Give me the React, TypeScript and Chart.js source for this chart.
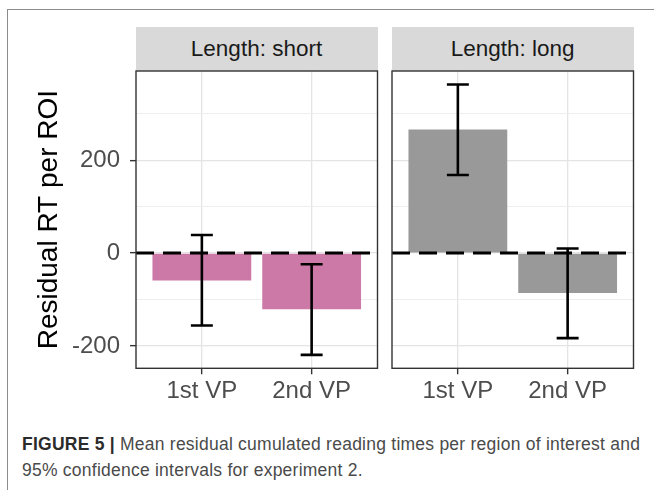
import React, { useEffect, useRef } from "react";
import { Chart, registerables } from "chart.js";

Chart.register(...registerables);

// ---- data ----
const categories = ["1st VP", "2nd VP"];
const panelTitles = ["Length: short", "Length: long"];
const shortMeans = [-59, -121];
const shortLower = [-156, -219];
const shortUpper = [39, -24];
const longMeans = [266, -86];
const longLower = [168, -183];
const longUpper = [363, 10];
const yTicks = [-200, -100, 0, 100, 200, 300];
const yLabelTicks = [-200, 0, 200];
const yAxisTitle = "Residual RT per ROI";
const captionBold = "FIGURE 5 |";
const captionText =
  " Mean residual cumulated reading times per region of interest and 95% confidence intervals for experiment 2.";

const Y_MIN = -248;
const Y_MAX = 392;
const FONT = "'Liberation Sans', Arial, Helvetica, sans-serif";

Chart.defaults.font.family = FONT;

const panelPlugin = {
  id: "panel",
  afterDatasetsDraw(chart: any, _args: any, opts: any) {
    const { ctx, chartArea, scales } = chart;
    const xs = scales.x;
    const ys = scales.y;
    const lower: number[] = opts.lower || [];
    const upper: number[] = opts.upper || [];
    ctx.save();
    ctx.strokeStyle = "#000";
    ctx.lineWidth = 2.6;
    ctx.lineCap = "butt";
    const half = xs.getPixelForValue(1.1) - xs.getPixelForValue(1);
    lower.forEach((lo, i) => {
      const x = xs.getPixelForValue(i + 1);
      const yl = ys.getPixelForValue(lo);
      const yu = ys.getPixelForValue(upper[i]);
      ctx.beginPath();
      ctx.moveTo(x, yu);
      ctx.lineTo(x, yl);
      ctx.moveTo(x - half, yu);
      ctx.lineTo(x + half, yu);
      ctx.moveTo(x - half, yl);
      ctx.lineTo(x + half, yl);
      ctx.stroke();
    });
    ctx.strokeStyle = "#333";
    ctx.lineWidth = 1.4;
    ctx.strokeRect(chartArea.left, chartArea.top, chartArea.right - chartArea.left, chartArea.bottom - chartArea.top);
    ctx.restore();
  },
};

function makeConfig(
  means: number[],
  lower: number[],
  upper: number[],
  color: string,
  showY: boolean,
  padding: any
): any {
  return {
    type: "bar",
    data: {
      datasets: [
        {
          type: "line",
          data: [
            { x: 0.4, y: 0 },
            { x: 2.6, y: 0 },
          ],
          borderColor: "#000",
          borderWidth: 3,
          borderDash: [18, 9],
          pointRadius: 0,
          order: 0,
        },
        {
          type: "bar",
          data: means.map((v, i) => ({ x: i + 1, y: v })),
          backgroundColor: color,
          borderWidth: 0,
          barPercentage: 0.9,
          categoryPercentage: 1,
          order: 1,
        },
      ],
    },
    options: {
      animation: false,
      responsive: false,
      maintainAspectRatio: false,
      layout: { padding },
      plugins: {
        legend: { display: false },
        tooltip: { enabled: false },
        panel: { lower, upper },
      },
      scales: {
        x: {
          type: "linear",
          min: 0.4,
          max: 2.6,
          offset: false,
          afterBuildTicks: (s: any) => {
            s.ticks = categories.map((_, i) => ({ value: i + 1 }));
          },
          afterFit: (s: any) => {
            s.height = 41.7;
            s.paddingLeft = 0;
            s.paddingRight = 0;
          },
          ticks: {
            callback: (v: any) => categories[Math.round(v) - 1] ?? "",
            color: "#4d4d4d",
            font: { size: 24 },
            padding: 3,
            autoSkip: false,
            maxRotation: 0,
          },
          grid: {
            offset: false,
            color: "#e4e4e4",
            lineWidth: 1.3,
            tickColor: "#333",
            tickWidth: 1.4,
            tickLength: 6,
          },
          border: { display: false },
        },
        y: {
          type: "linear",
          min: Y_MIN,
          max: Y_MAX,
          afterBuildTicks: (s: any) => {
            s.ticks = yTicks.map((v) => ({ value: v }));
          },
          afterFit: (s: any) => {
            s.width = showY ? 136 : 0;
            s.paddingTop = 0;
            s.paddingBottom = 0;
          },
          ticks: {
            display: showY,
            callback: (v: any) => (yLabelTicks.includes(v) ? String(v) : ""),
            color: "#4d4d4d",
            font: { size: 24 },
            padding: 10,
            autoSkip: false,
          },
          grid: {
            color: (c: any) => (c.tick && yLabelTicks.includes(c.tick.value) ? "#e4e4e4" : "#ececec"),
            lineWidth: (c: any) => (c.tick && yLabelTicks.includes(c.tick.value) ? 1.3 : 0.9),
            tickColor: (c: any) => (c.tick && yLabelTicks.includes(c.tick.value) ? "#333" : "rgba(0,0,0,0)"),
            tickWidth: 1.4,
            tickLength: 6,
            drawTicks: showY,
          },
          border: { display: false },
          title: {
            display: showY,
            text: yAxisTitle,
            color: "#000",
            font: { size: 28 },
            padding: { top: 32, bottom: 0 },
          },
        },
      },
    },
    plugins: [panelPlugin],
  };
}

function PanelChart(props: {
  means: number[];
  lower: number[];
  upper: number[];
  color: string;
  showY: boolean;
  padding: any;
  width: number;
  height: number;
  style: React.CSSProperties;
}) {
  const ref = useRef<HTMLCanvasElement | null>(null);
  useEffect(() => {
    if (!ref.current) return;
    const chart = new Chart(
      ref.current,
      makeConfig(props.means, props.lower, props.upper, props.color, props.showY, props.padding)
    );
    return () => chart.destroy();
  }, []);
  return (
    <canvas
      ref={ref}
      width={props.width}
      height={props.height}
      style={{ position: "absolute", width: props.width, height: props.height, ...props.style }}
    />
  );
}

const stripStyle: React.CSSProperties = {
  position: "absolute",
  top: 26.7,
  height: 44,
  width: 242,
  background: "#d9d9d9",
  color: "#1a1a1a",
  fontFamily: FONT,
  fontSize: 22.5,
  lineHeight: "44px",
  textAlign: "center",
  whiteSpace: "nowrap",
};

export default function App() {
  return (
    <div
      style={{
        position: "absolute",
        left: 0,
        top: 0,
        width: 654,
        height: 490,
        background: "#fff",
        overflow: "hidden",
      }}
    >
      <div
        style={{
          position: "absolute",
          left: 7,
          top: 9,
          width: 700,
          height: 520,
          borderTop: "1.3px solid #8c8c8c",
          borderLeft: "1.3px solid #8c8c8c",
        }}
      />
      <div style={{ ...stripStyle, left: 135.5 }}>{panelTitles[0]}</div>
      <div style={{ ...stripStyle, left: 391.7 }}>{panelTitles[1]}</div>
      <PanelChart
        means={shortMeans}
        lower={shortLower}
        upper={shortUpper}
        color="#cc79a7"
        showY={true}
        padding={{ left: 0, top: 11, right: 4.5, bottom: 0 }}
        width={382}
        height={350}
        style={{ left: 0, top: 60 }}
      />
      <PanelChart
        means={longMeans}
        lower={longLower}
        upper={longUpper}
        color="#999999"
        showY={false}
        padding={{ left: 4, top: 11, right: 4.5, bottom: 0 }}
        width={250}
        height={350}
        style={{ left: 388, top: 60 }}
      />
      <div
        style={{
          position: "absolute",
          left: 22,
          top: 432.4,
          width: 632,
          fontFamily: FONT,
          fontSize: 17.5,
          letterSpacing: "0.24px",
          lineHeight: "25.7px",
          color: "#4a4a4a",
        }}
      >
        <span style={{ fontWeight: "bold", color: "#2b2b2b" }}>{captionBold}</span>
        {captionText}
      </div>
    </div>
  );
}
